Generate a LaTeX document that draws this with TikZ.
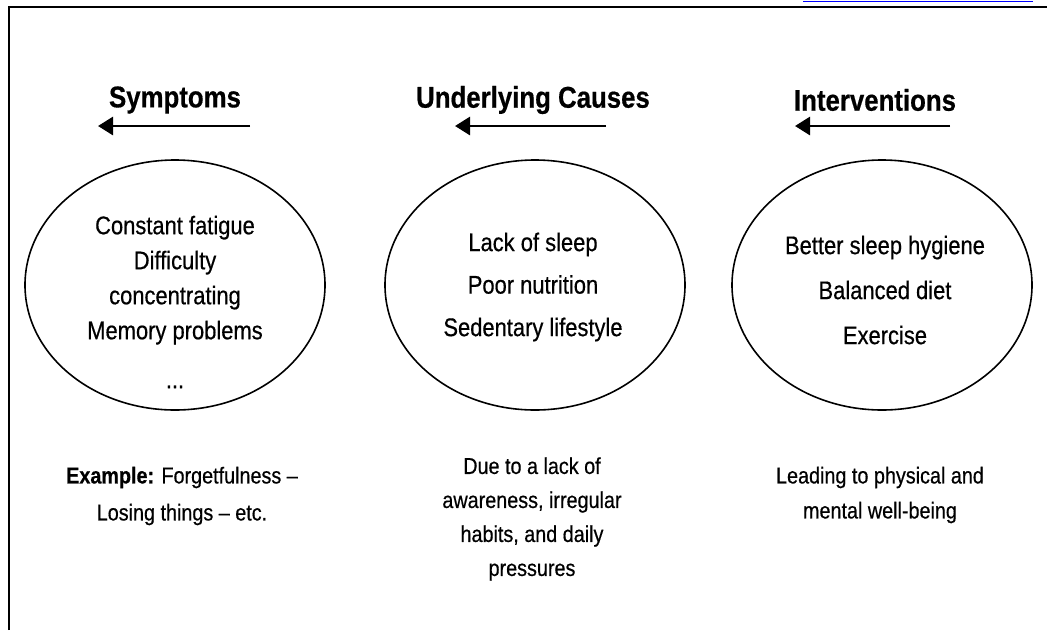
\documentclass[tikz,border=0pt]{standalone}
\usepackage{fontspec}
\setmainfont{Liberation Sans}[FakeStretch=0.86, FakeBold=0.5]
\usetikzlibrary{shapes,arrows.meta}

\begin{document}
\begin{tikzpicture}[x=1pt, y=-1pt,
    heading/.style={font=\fontsize{30}{34}\selectfont\bfseries},
    bubble/.style={draw, line width=1.6pt, ellipse, minimum width=300pt, minimum height=250pt},
    inner/.style={align=center},
    note/.style={align=center},
    back/.style={line width=2.8pt, -{Triangle[length=15pt,width=18pt]}}]
    \useasboundingbox (0,0) rectangle (1047,630);

    % frame and cut link
    \draw[line width=2pt] (9,630) -- (9,7) -- (1047,7);
    \draw[blue, line width=0.8pt] (803,1) -- (1033,1);

    \node[heading] (symHead) at (175,100) {Symptoms};
    \node[heading] (causeHead) at (533,100) {Underlying Causes};
    \node[heading] (actHead) at (875,100) {Interventions};

    \coordinate (symTail) at (250,126);
    \coordinate (symTip) at (98,126);
    \coordinate (causeTail) at (606,126);
    \coordinate (causeTip) at (455,126);
    \coordinate (actTail) at (950,126);
    \coordinate (actTip) at (795,126);
    \draw[back] (symTail) -- (symTip);
    \draw[back] (causeTail) -- (causeTip);
    \draw[back] (actTail) -- (actTip);

    \node[bubble] (symEll) at (175,285) {};
    \node[bubble] (causeEll) at (535,285) {};
    \node[bubble] (actEll) at (882,285) {};

    \node[inner, font=\fontsize{25.5}{35}\selectfont] (symTxt) at (175,302)
        {Constant fatigue\\Difficulty\\concentrating\\Memory problems\\[14pt]...};
    \node[inner, font=\fontsize{25.5}{42.5}\selectfont] (causeTxt) at (533,287)
        {Lack of sleep\\Poor nutrition\\Sedentary lifestyle};
    \node[inner, font=\fontsize{25.5}{45}\selectfont] (actTxt) at (885,290)
        {Better sleep hygiene\\Balanced diet\\Exercise};

    \node[note, font=\fontsize{23}{37}\selectfont] (symNote) at (182,496)
        {\textbf{Example:} Forgetfulness --\\Losing things -- etc.};
    \node[note, font=\fontsize{23}{34}\selectfont] (causeNote) at (532,519)
        {Due to a lack of\\awareness, irregular\\habits, and daily\\pressures};
    \node[note, font=\fontsize{23}{35}\selectfont] (actNote) at (880,495)
        {Leading to physical and\\mental well-being};
\end{tikzpicture}
\end{document}
